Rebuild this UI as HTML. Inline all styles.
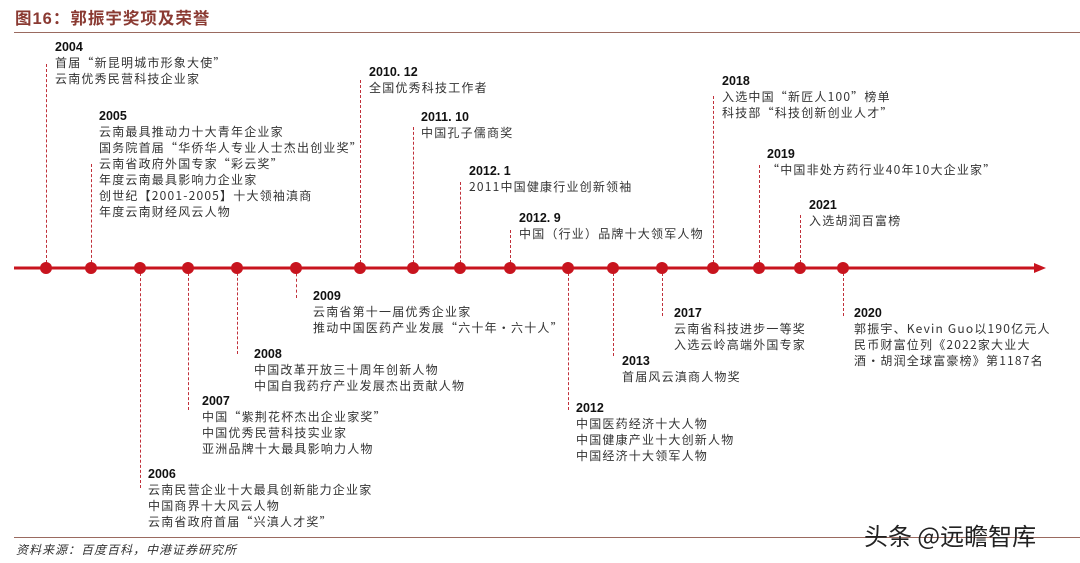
<!DOCTYPE html>
<html><head><meta charset="utf-8"><style>
body{margin:0;width:1080px;height:563px;background:#fff;position:relative;overflow:hidden;font-family:"Liberation Sans","Noto Sans CJK SC",sans-serif}
.t{position:absolute;font-family:"Noto Sans CJK SC",sans-serif;font-size:12px;line-height:16px;color:#333;letter-spacing:1.2px;white-space:nowrap}
.t b{display:block;font-family:"Liberation Sans",sans-serif;color:#111;letter-spacing:0;font-size:12.5px}
.v{position:absolute;width:0;border-left:1.3px dashed #c0303a}
.d{position:absolute;width:12px;height:12px;border-radius:50%;background:#c8141e;top:262px}
</style></head><body>
<div style="position:absolute;left:15px;top:5px;font-size:16.5px;font-weight:bold;color:#8a3a32;letter-spacing:1px">图16：郭振宇奖项及荣誉</div>
<div style="position:absolute;left:14px;top:32px;width:1066px;height:1px;background:#9a6a60"></div>
<div style="position:absolute;left:14px;top:537px;width:1066px;height:1px;background:#9a6a60"></div>
<div style="position:absolute;left:16px;top:541px;font-size:12px;font-style:italic;color:#333;letter-spacing:1px">资料来源：百度百科，中港证券研究所</div>
<div style="position:absolute;left:864px;top:521px;font-family:'Noto Sans CJK SC',sans-serif;font-size:24px;line-height:28px;color:#222">头条 @远瞻智库</div>

<svg style="position:absolute;left:0;top:0" width="1080" height="563">
<line x1="14" y1="268" x2="1036" y2="268" stroke="#c8141e" stroke-width="3"/>
<polygon points="1034,263 1046,268 1034,273" fill="#c8141e"/>
</svg>

<div class="v" style="left:46px;top:64px;height:204px"></div>
<div class="v" style="left:91px;top:164px;height:104px"></div>
<div class="v" style="left:360px;top:80px;height:188px"></div>
<div class="v" style="left:413px;top:127px;height:141px"></div>
<div class="v" style="left:460px;top:182px;height:86px"></div>
<div class="v" style="left:510px;top:230px;height:38px"></div>
<div class="v" style="left:713px;top:96px;height:172px"></div>
<div class="v" style="left:759px;top:165px;height:103px"></div>
<div class="v" style="left:800px;top:215px;height:53px"></div>

<div class="v" style="left:140px;top:268px;height:220px"></div>
<div class="v" style="left:188px;top:268px;height:142px"></div>
<div class="v" style="left:237px;top:268px;height:86px"></div>
<div class="v" style="left:296px;top:268px;height:30px"></div>
<div class="v" style="left:568px;top:268px;height:142px"></div>
<div class="v" style="left:613px;top:268px;height:88px"></div>
<div class="v" style="left:662px;top:268px;height:48px"></div>
<div class="v" style="left:843px;top:268px;height:48px"></div>

<div class="d" style="left:40px"></div><div class="d" style="left:85px"></div>
<div class="d" style="left:134px"></div><div class="d" style="left:182px"></div>
<div class="d" style="left:231px"></div><div class="d" style="left:290px"></div>
<div class="d" style="left:354px"></div><div class="d" style="left:407px"></div>
<div class="d" style="left:454px"></div><div class="d" style="left:504px"></div>
<div class="d" style="left:562px"></div><div class="d" style="left:607px"></div>
<div class="d" style="left:656px"></div><div class="d" style="left:707px"></div>
<div class="d" style="left:753px"></div><div class="d" style="left:794px"></div>
<div class="d" style="left:837px"></div>

<div class="t" style="left:55px;top:39px"><b>2004</b>首届“新昆明城市形象大使”<br>云南优秀民营科技企业家</div>
<div class="t" style="left:99px;top:108px"><b>2005</b>云南最具推动力十大青年企业家<br>国务院首届“华侨华人专业人士杰出创业奖”<br>云南省政府外国专家“彩云奖”<br>年度云南最具影响力企业家<br>创世纪【2001-2005】十大领袖滇商<br>年度云南财经风云人物</div>
<div class="t" style="left:369px;top:64px"><b>2010. 12</b>全国优秀科技工作者</div>
<div class="t" style="left:421px;top:109px"><b>2011. 10</b>中国孔子儒商奖</div>
<div class="t" style="left:469px;top:163px"><b>2012. 1</b>2011中国健康行业创新领袖</div>
<div class="t" style="left:519px;top:210px"><b>2012. 9</b>中国（行业）品牌十大领军人物</div>
<div class="t" style="left:722px;top:73px"><b>2018</b>入选中国“新匠人100”榜单<br>科技部“科技创新创业人才”</div>
<div class="t" style="left:767px;top:146px"><b>2019</b>“中国非处方药行业40年10大企业家”</div>
<div class="t" style="left:809px;top:197px"><b>2021</b>入选胡润百富榜</div>

<div class="t" style="left:313px;top:288px"><b>2009</b>云南省第十一届优秀企业家<br>推动中国医药产业发展“六十年·六十人”</div>
<div class="t" style="left:254px;top:346px"><b>2008</b>中国改革开放三十周年创新人物<br>中国自我药疗产业发展杰出贡献人物</div>
<div class="t" style="left:202px;top:393px"><b>2007</b>中国“紫荆花杯杰出企业家奖”<br>中国优秀民营科技实业家<br>亚洲品牌十大最具影响力人物</div>
<div class="t" style="left:148px;top:466px"><b>2006</b>云南民营企业十大最具创新能力企业家<br>中国商界十大风云人物<br>云南省政府首届“兴滇人才奖”</div>
<div class="t" style="left:576px;top:400px"><b>2012</b>中国医药经济十大人物<br>中国健康产业十大创新人物<br>中国经济十大领军人物</div>
<div class="t" style="left:622px;top:353px"><b>2013</b>首届风云滇商人物奖</div>
<div class="t" style="left:674px;top:305px"><b>2017</b>云南省科技进步一等奖<br>入选云岭高端外国专家</div>
<div class="t" style="left:854px;top:305px"><b>2020</b>郭振宇、Kevin Guo以190亿元人<br>民币财富位列《2022家大业大<br>酒·胡润全球富豪榜》第1187名</div>
</body></html>
